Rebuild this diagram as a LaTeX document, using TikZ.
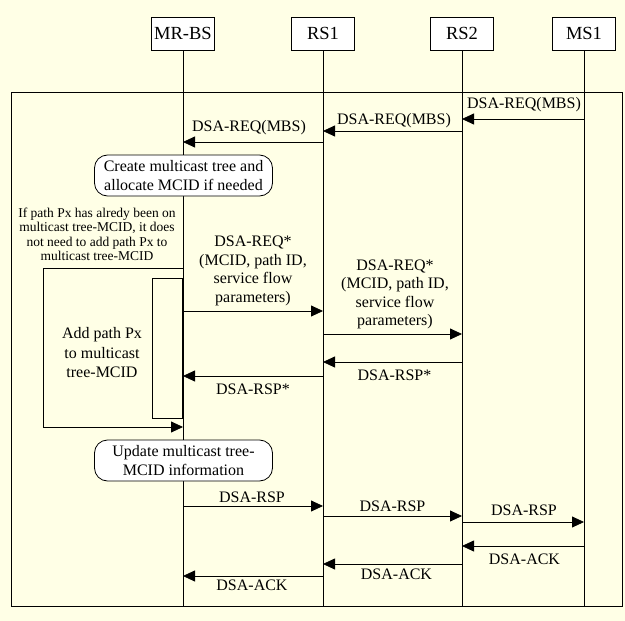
\documentclass[tikz,border=0pt]{standalone}
\usepackage{fontspec}
\setmainfont{Liberation Serif}
\usetikzlibrary{arrows.meta}

\definecolor{paper}{RGB}{255,255,230}

\begin{document}
\begin{tikzpicture}[x=1pt,y=-1pt,
  hdr/.style={draw, fill=white, line width=0.8pt, minimum width=63pt, minimum height=33pt,
              inner sep=0pt, font=\fontsize{18.5}{20}\selectfont},
  life/.style={line width=0.8pt},
  msg/.style={line width=0.8pt, -{Triangle[length=12pt,width=11pt]}},
  lbl/.style={font=\fontsize{16}{18.5}\selectfont, inner sep=0pt, align=center},
  act/.style={draw, fill=white, rounded corners=13pt, line width=0.8pt,
              minimum width=178pt, minimum height=41pt, inner sep=0pt, align=center,
              font=\fontsize{16}{18.5}\selectfont},
  note/.style={font=\fontsize{13.5}{14.4}\selectfont, align=center, inner sep=0pt},
  proc/.style={font=\fontsize{16}{19.5}\selectfont, align=center, inner sep=0pt}]

% page background and size
\fill[paper] (0,0) rectangle (625,621);
\useasboundingbox (0,0) rectangle (625,621);

% participants
\node[hdr] (mrbs) at (183,33.5) {MR-BS};
\node[hdr] (rs1)  at (323,33.5) {RS1};
\node[hdr] (rs2)  at (462,33.5) {RS2};
\node[hdr] (ms1)  at (584,33.5) {MS1};

% enclosing frame of the procedure
\draw[line width=0.8pt] (11,92) rectangle (622,606);

% lifelines
\foreach \p in {mrbs,rs1,rs2,ms1}
  \draw[life] (\p.south) -- (\p |- 0,606);

% initial requests
\draw[msg] (ms1 |- 0,119) -- node[lbl, yshift=14pt, xshift=1pt] {DSA-REQ(MBS)} (rs2 |- 0,119);
\draw[msg] (rs2 |- 0,131) -- node[lbl, yshift=10pt, xshift=1.5pt] {DSA-REQ(MBS)} (rs1 |- 0,131);
\draw[msg] (rs1 |- 0,142) -- node[lbl, yshift=14pt, xshift=-4pt] {DSA-REQ(MBS)} (mrbs |- 0,142);

% tree creation at the base station
\node[act] (create) at (183.5,175.5) {Create multicast tree and\\allocate MCID if needed};

% condition note
\node[note] (cond) at (97,234.5) {If path Px has alredy been on\\multicast tree-MCID, it does\\not need to add path Px to\\multicast tree-MCID};

% optional path addition: bypass loop and activation block
\coordinate (brA) at (mrbs |- 0,268);
\coordinate (brL1) at (43,268);
\coordinate (brL2) at (43,427);
\coordinate (brB) at (mrbs |- 0,427);
\draw[msg] (brA) -- (brL1) -- (brL2) -- (brB);
\node[draw, line width=0.8pt, minimum width=30pt, minimum height=140pt, inner sep=0pt,
      anchor=north east] (addbox) at (mrbs |- 0,278) {};
\node[proc] (addtxt) at (102,353) {Add path Px\\to multicast\\tree-MCID};

% path set-up requests and responses
\draw[msg] (mrbs |- 0,311) -- node[lbl, yshift=40pt] {DSA-REQ*\\(MCID, path ID,\\service flow\\parameters)} (rs1 |- 0,311);
\draw[msg] (rs1 |- 0,334) -- node[lbl, yshift=39.5pt, xshift=2.5pt] {DSA-REQ*\\(MCID, path ID,\\service flow\\parameters)} (rs2 |- 0,334);
\draw[msg] (rs2 |- 0,362) -- node[lbl, yshift=-13pt, xshift=2pt] {DSA-RSP*} (rs1 |- 0,362);
\draw[msg] (rs1 |- 0,376) -- node[lbl, yshift=-13pt] {DSA-RSP*} (mrbs |- 0,376);

% tree update
\node[act] (update) at (183.5,460.5) {Update multicast tree-\\MCID information};

% final responses and acknowledgements
\draw[msg] (mrbs |- 0,506) -- node[lbl, yshift=9pt, xshift=-1pt] {DSA-RSP} (rs1 |- 0,506);
\draw[msg] (rs1 |- 0,516) -- node[lbl, yshift=10pt] {DSA-RSP} (rs2 |- 0,516);
\draw[msg] (rs2 |- 0,522) -- node[lbl, yshift=12pt, xshift=1pt] {DSA-RSP} (ms1 |- 0,522);
\draw[msg] (ms1 |- 0,546) -- node[lbl, yshift=-13pt, xshift=1.5pt] {DSA-ACK} (rs2 |- 0,546);
\draw[msg] (rs2 |- 0,564) -- node[lbl, yshift=-10pt, xshift=4pt] {DSA-ACK} (rs1 |- 0,564);
\draw[msg] (rs1 |- 0,576) -- node[lbl, yshift=-9pt, xshift=-1pt] {DSA-ACK} (mrbs |- 0,576);

\end{tikzpicture}
\end{document}
